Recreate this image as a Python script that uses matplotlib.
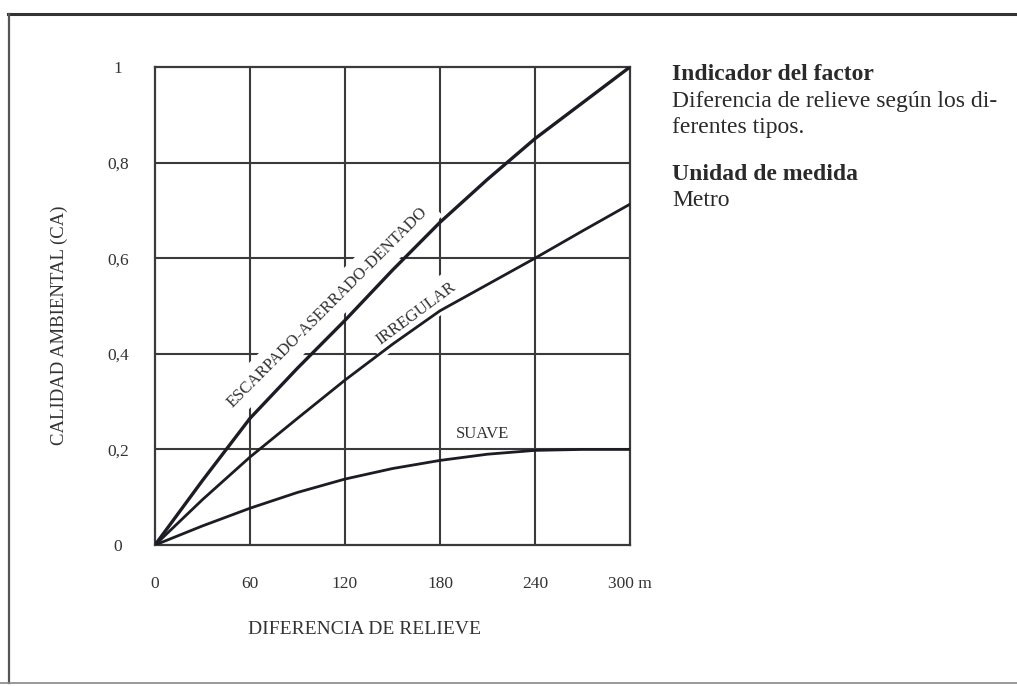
import matplotlib.pyplot as plt
from matplotlib.lines import Line2D

plt.rcParams['font.family'] = ['Liberation Serif', 'DejaVu Serif']

# Data
relieve = [0, 30, 60, 90, 120, 150, 180, 210, 240, 270, 300]
escarpado = [0, 0.135, 0.265, 0.37, 0.47, 0.575, 0.675, 0.765, 0.85, 0.925, 1.0]
irregular = [0, 0.095, 0.184, 0.265, 0.345, 0.42, 0.49, 0.545, 0.60, 0.657, 0.713]
suave = [0, 0.04, 0.077, 0.11, 0.138, 0.16, 0.177, 0.19, 0.198, 0.2, 0.2]

x_ticks = [0, 60, 120, 180, 240, 300]
x_labels = ['0', '60', '120', '180', '240', '300 m']
y_ticks = [0, 0.2, 0.4, 0.6, 0.8, 1.0]
y_labels = ['0', '0,2', '0,4', '0,6', '0,8', '1']

grid_col = '#3a3a3a'
line_col = '#1c1c24'
text_col = '#333333'

fig = plt.figure(figsize=(10.17, 6.86), dpi=100)
ax = fig.add_axes([0.1524, 0.2055, 0.467, 0.6968])
ax.set_xlim(0, 300)
ax.set_ylim(0, 1)

# grid
for xv in x_ticks[1:-1]:
    ax.axvline(xv, color=grid_col, lw=1.5, zorder=1)
for yv in y_ticks[1:-1]:
    ax.axhline(yv, color=grid_col, lw=1.5, zorder=1)
for s in ax.spines.values():
    s.set_color(grid_col)
    s.set_linewidth(1.6)

# curves
ax.plot(relieve, escarpado, color=line_col, lw=2.4, zorder=5, solid_capstyle='round')
ax.plot(relieve, irregular, color=line_col, lw=2.0, zorder=5, solid_capstyle='round')
ax.plot(relieve, suave, color=line_col, lw=2.0, zorder=5, solid_capstyle='round')

# curve labels (white box hides the grid behind them)
box = dict(facecolor='white', edgecolor='none', pad=6)
ax.text(109, 0.497, 'ESCARPADO-ASERRADO-DENTADO', rotation=45, rotation_mode='anchor',
        ha='center', va='center', fontsize=12, color=text_col, bbox=box, zorder=4)
ax.text(165, 0.485, 'IRREGULAR', rotation=36.5, rotation_mode='anchor',
        ha='center', va='center', fontsize=12, color=text_col, bbox=box, zorder=4)
ax.text(207, 0.215, 'SUAVE', ha='center', va='bottom', fontsize=12, color=text_col, zorder=4)

ax.set_xticks(x_ticks)
ax.set_xticklabels(x_labels, fontsize=12.5, color=text_col)
ax.set_yticks(y_ticks)
ax.set_yticklabels(y_labels, fontsize=12.5, color=text_col)
ax.tick_params(length=0)
ax.tick_params(axis='x', pad=22.5)
ax.tick_params(axis='y', pad=26.5)
for lbl in ax.get_yticklabels():
    lbl.set_horizontalalignment('center')

fig.text(365 / 1017, 1 - 630 / 686, 'DIFERENCIA DE RELIEVE', ha='center', va='center',
         fontsize=14, color=text_col)
fig.text(59 / 1017, 1 - 325 / 686, 'CALIDAD AMBIENTAL (CA)', rotation=90, ha='center',
         va='center', fontsize=13.5, color=text_col)

# side notes
tx = 672 / 1017
note_col = '#2a2a2a'
fig.text(tx, 1 - 75 / 686, 'Indicador del factor', fontsize=17, fontweight='bold',
         color=note_col, va='center')
fig.text(tx, 1 - 102 / 686, 'Diferencia de relieve según los di-', fontsize=17,
         color=note_col, va='center')
fig.text(tx, 1 - 128 / 686, 'ferentes tipos.', fontsize=17, color=note_col, va='center')
fig.text(tx, 1 - 175 / 686, 'Unidad de medida', fontsize=17, fontweight='bold',
         color=note_col, va='center')
fig.text(tx, 1 - 200 / 686, 'Metro', fontsize=17, color=note_col, va='center')

# page frame
fig.add_artist(Line2D([8 / 1017, 1.0], [1 - 14 / 686, 1 - 14 / 686], color='#333333', lw=2.2))
fig.add_artist(Line2D([9 / 1017, 9 / 1017], [1 - 14 / 686, 1 - 683 / 686], color='#555555', lw=1.6))
fig.add_artist(Line2D([0.0, 1.0], [1 - 683 / 686, 1 - 683 / 686], color='#888888', lw=1.2))

fig.savefig('out.png', dpi=100)
